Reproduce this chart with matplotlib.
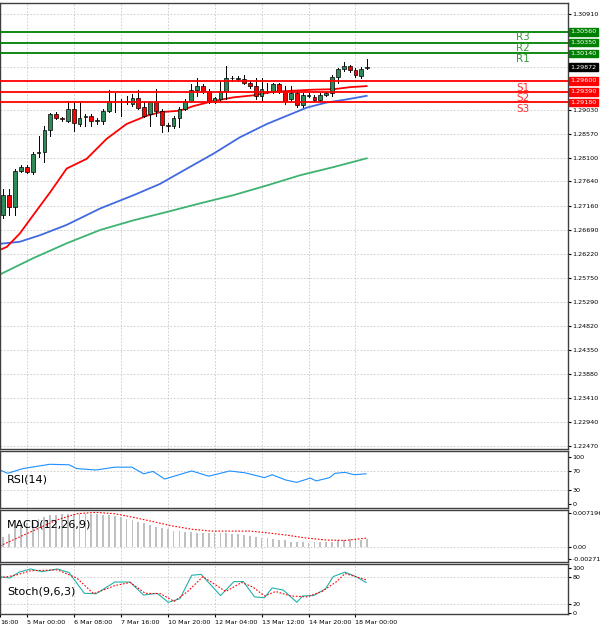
import numpy as np
import matplotlib
matplotlib.use("Agg")
import matplotlib.pyplot as plt
from matplotlib.patches import Rectangle

# ---------------- data ----------------
opens = [1.2698,1.2737,1.2714,1.2785,1.2792,1.2782,1.2820,1.2821,1.2865,1.2895,1.2887,1.2882,1.2905,1.2876,1.2889,1.2892,
         1.2882,1.2882,1.2902,1.2920,1.2921,1.2920,1.2915,1.2926,1.2910,1.2895,1.2919,1.2902,1.2875,1.2873,1.2888,1.2906,
         1.2921,1.2942,1.2950,1.2941,1.2920,1.2924,1.2941,1.2965,1.2963,1.2963,1.2957,1.2950,1.2931,1.2939,1.2941,1.2954,
         1.2941,1.2924,1.2937,1.2913,1.2931,1.2929,1.2923,1.2933,1.2936,1.2968,1.2983,1.2989,1.2981,1.2970,1.2985]
closes = [1.2737,1.2714,1.2785,1.2792,1.2783,1.2818,1.2822,1.2865,1.2895,1.2888,1.2886,1.2905,1.2878,1.2888,1.2892,1.2882,
          1.2884,1.2902,1.2920,1.2921,1.2920,1.2918,1.2926,1.2908,1.2892,1.2918,1.2902,1.2875,1.2873,1.2888,1.2906,1.2921,
          1.2942,1.2950,1.2941,1.2920,1.2926,1.2941,1.2966,1.2966,1.2966,1.2957,1.2950,1.2931,1.2944,1.2941,1.2954,1.2941,
          1.2921,1.2937,1.2913,1.2933,1.2933,1.2923,1.2933,1.2936,1.2968,1.2983,1.2989,1.2981,1.2971,1.2984,1.2987]
highs = [1.2750,1.2750,1.2789,1.2795,1.2795,1.2821,1.2853,1.2873,1.2897,1.2899,1.2890,1.2921,1.2921,1.2918,1.2895,1.2895,
         1.2887,1.2905,1.2942,1.2937,1.2924,1.2931,1.2934,1.2942,1.2921,1.2921,1.2944,1.2905,1.2878,1.2891,1.2910,1.2924,
         1.2954,1.2965,1.2954,1.2944,1.2929,1.2960,1.2989,1.2970,1.2970,1.2972,1.2960,1.2966,1.2966,1.2957,1.2957,1.2957,
         1.2950,1.2950,1.2941,1.2936,1.2937,1.2932,1.2936,1.2939,1.2972,1.2986,1.2997,1.2992,1.2985,1.2987,1.3003]
lows = [1.2692,1.2698,1.2698,1.2782,1.2780,1.2779,1.2811,1.2801,1.2853,1.2886,1.2882,1.2879,1.2863,1.2873,1.2873,1.2873,
        1.2876,1.2876,1.2899,1.2899,1.2892,1.2915,1.2911,1.2905,1.2889,1.2873,1.2892,1.2860,1.2863,1.2869,1.2871,1.2903,
        1.2918,1.2931,1.2937,1.2917,1.2917,1.2921,1.2924,1.2960,1.2960,1.2954,1.2947,1.2924,1.2921,1.2936,1.2937,1.2937,
        1.2915,1.2921,1.2910,1.2910,1.2928,1.2920,1.2920,1.2930,1.2931,1.2957,1.2979,1.2978,1.2968,1.2966,1.2983]

ma_red_x = [-0.6,0.6,2.8,5.1,8,10.8,14.2,17.6,21,24.4,26.7,30.1,32.4,35.8,39.2,42.6,46,49.4,52.8,56.3,59.1,61.9]
ma_red_y = [1.2630,1.2636,1.2662,1.2698,1.2743,1.2789,1.2808,1.2847,1.2876,1.2892,1.2899,1.2902,1.2911,1.2921,1.2928,
            1.2932,1.2939,1.2941,1.2943,1.2944,1.2948,1.2950]
ma_blue_x = [-0.6,2.8,6.3,10.8,16.5,22.2,26.7,31.3,35.8,40.3,44.9,48.3,51.7,55.1,58.5,61.9]
ma_blue_y = [1.2642,1.2646,1.2659,1.2679,1.2711,1.2737,1.2759,1.2789,1.2818,1.2850,1.2876,1.2892,1.2908,1.2918,1.2924,1.2931]
ma_green_x = [-0.6,5.1,10.8,16.5,22.2,27.8,33.5,39.2,44.9,50.6,56.3,61.9]
ma_green_y = [1.2582,1.2614,1.2643,1.2669,1.2688,1.2704,1.2721,1.2737,1.2756,1.2776,1.2792,1.2809]

res_levels = [1.30560, 1.30350, 1.30140]
res_names = ["R3", "R2", "R1"]
sup_levels = [1.29600, 1.29390, 1.29180]
sup_names = ["S1", "S2", "S3"]
last_price = 1.29872
price_ticks = [1.30910,1.29870,1.29030,1.28570,1.28100,1.27640,1.27160,1.26690,1.26220,1.25750,1.25290,
               1.24820,1.24350,1.23880,1.23410,1.22940,1.22470]

rsi_x = [-0.56,0.74,3.35,7.9,11.2,12.5,15.8,19.0,21.9,23.9,25.5,27.5,32.1,35.0,38.6,41.2,44.5,45.8,48.1,50.0,52.3,53.3,
         55.6,56.5,58.2,59.8,61.8]
rsi_y = [72,65,75,84,83,75,72,78,78,64,69,53,70,59,70,66,56,62,51,46,55,49,56,65,67,62,64]

macd_hist = [2.0,2.7,3.9,4.5,5.0,5.3,5.9,6.2,6.7,6.8,7.0,7.0,7.0,7.0,7.0,7.0,7.0,6.8,6.7,6.5,6.2,5.9,5.7,5.3,5.0,4.6,
             4.2,4.0,3.7,3.4,3.3,3.1,3.0,2.9,2.9,2.9,2.9,2.9,2.9,2.7,2.6,2.4,2.2,2.1,1.9,1.8,1.6,1.4,1.3,1.0,0.9,0.9,
             0.8,0.9,0.9,1.0,1.0,1.3,1.5,1.6,1.6,1.5,1.6]  # x 0.001
macd_sig_x = [-0.56,2.7,6.0,9.2,12.5,15.8,19.0,22.3,25.6,28.8,32.1,35.4,38.7,42.0,45.2,48.5,51.7,55.0,58.2,61.8]
macd_sig_y = [0.15,2.0,3.9,5.7,7.0,7.3,7.0,6.2,5.3,4.4,3.7,3.3,3.3,3.3,2.9,2.4,1.8,1.4,1.3,1.8]

stk_x = [-0.56,1.07,2.7,4.66,6.6,9.2,11.2,13.8,15.8,19.0,21.6,23.9,26.2,28.1,30.1,32.1,33.7,37.0,39.3,40.9,42.8,44.5,
         45.8,47.7,50.0,51.0,52.9,54.9,56.2,58.2,60.1,61.8]
stk_k = [80,77,90,97,91,97,89,43,42,68,68,39,43,23,31,83,85,38,69,69,35,33,55,50,23,37,38,53,80,90,80,67]
std_x = [-0.56,2.05,4.66,9.2,12.5,15.4,19.0,21.6,24.2,26.8,29.1,31.4,34.0,36.0,37.9,40.6,42.5,44.5,46.4,49.0,51.7,
         54.3,56.9,58.2,61.8]
std_d = [77,83,93,95,77,42,60,67,43,42,25,47,80,63,47,67,57,37,47,37,35,47,70,87,73]

date_ticks = [-0.56,4,12,20,28,36,44,52,60]
date_labels = ["16:00","5 Mar 00:00","6 Mar 08:00","7 Mar 16:00","10 Mar 20:00","12 Mar 04:00",
               "13 Mar 12:00","14 Mar 20:00","18 Mar 00:00"]

# ---------------- layout ----------------
W, H = 600, 629
fig = plt.figure(figsize=(6, 6.29), dpi=100)
fig.patch.set_facecolor("white")
plt.rcParams["font.family"] = "DejaVu Sans"
AXR = 568
XL, XR = -0.56, 96.2
FS = 4.6
GRID = dict(color="#c8c8c8", linestyle=(0, (2, 2)), linewidth=0.6)

def mk(top, bot):
    ax = fig.add_axes([0, 1 - bot / H, AXR / W, (bot - top) / H])
    ax.yaxis.tick_right()
    ax.tick_params(axis="y", labelsize=FS, length=2, pad=1.2)
    ax.tick_params(axis="x", length=0, labelbottom=False)
    ax.set_xticks(date_ticks)
    ax.set_xlim(XL, XR)
    ax.grid(True, axis="x", **GRID)
    for s in ax.spines.values():
        s.set_color("#404040")
        s.set_linewidth(1.0)
    return ax

ax = mk(3, 449)
ax.set_ylim(1.22413, 1.31123)
ax.set_yticks(price_ticks)
ax.set_yticklabels([f"{v:.5f}" for v in price_ticks])
ax.grid(True, axis="y", **GRID)

for i, (o, c, h, l) in enumerate(zip(opens, closes, highs, lows)):
    ax.plot([i, i], [l, h], color="black", lw=0.7, zorder=3)
    col = "#2e8b57" if c >= o else "#ff0000"
    lo, hi = min(o, c), max(o, c)
    ax.add_patch(Rectangle((i - 0.32, lo), 0.64, max(hi - lo, 0.00005), facecolor=col,
                           edgecolor="black", lw=0.5, zorder=4))

ax.plot(ma_green_x, ma_green_y, color="#3cb371", lw=1.3, zorder=2)
ax.plot(ma_blue_x, ma_blue_y, color="#4169e1", lw=1.3, zorder=2)
ax.plot(ma_red_x, ma_red_y, color="#ff0000", lw=1.3, zorder=2)

def box(y, txt, fc):
    ax.text(1.004, y, txt, transform=ax.get_yaxis_transform(), fontsize=FS, color="white",
            va="center", ha="left", zorder=10, clip_on=False,
            bbox=dict(boxstyle="square,pad=0.2", fc=fc, ec=fc))

for lv, nm in zip(res_levels, res_names):
    ax.axhline(lv, color="#008000", lw=1.3, zorder=5)
    ax.text(88.5, lv - 0.0001, nm, color="#3a9a3a", fontsize=7.5, va="top", ha="center", zorder=6)
    box(lv, f"{lv:.5f}", "#008000")
for lv, nm in zip(sup_levels, sup_names):
    ax.axhline(lv, color="#ff0000", lw=1.3, zorder=5)
    ax.text(88.5, lv - 0.0003, nm, color="#ff3030", fontsize=7.5, va="top", ha="center", zorder=6)
    box(lv, f"{lv:.5f}", "#ff0000")
box(last_price, f"{last_price:.5f}", "#000000")

# RSI
a1 = mk(451, 508)
a1.set_ylim(-8, 112)
a1.set_yticks([0, 30, 70, 100])
a1.axhline(70, **GRID); a1.axhline(30, **GRID)
a1.plot(rsi_x, rsi_y, color="#1e90ff", lw=0.8)
a1.text(0.012, 0.5, "RSI(14)", transform=a1.transAxes, fontsize=8, va="center")

# MACD
a2 = mk(510, 562)
a2.set_ylim(-3.3, 7.8)
a2.set_yticks([7.196, 0, -2.711])
a2.set_yticklabels(["0.007196", "0.00", "-0.002711"])
a2.axhline(0, **GRID)
a2.bar(range(len(macd_hist)), macd_hist, width=0.3, color="#c0c0c0")
a2.plot(macd_sig_x, macd_sig_y, color="#ff0000", lw=0.8, linestyle=(0, (1.5, 1.5)))
a2.text(0.012, 0.73, "MACD(12,26,9)", transform=a2.transAxes, fontsize=8, va="center")

# Stoch
a3 = mk(564, 614)
a3.set_ylim(-3, 108)
a3.set_yticks([0, 20, 80, 100])
a3.axhline(80, **GRID); a3.axhline(20, **GRID)
a3.plot(stk_x, stk_k, color="#20b2aa", lw=0.8)
a3.plot(std_x, std_d, color="#ff0000", lw=0.8, linestyle=(0, (1.5, 1.5)))
a3.text(0.012, 0.45, "Stoch(9,6,3)", transform=a3.transAxes, fontsize=8, va="center")
a3.tick_params(axis="x", labelbottom=True, labelsize=FS, length=2, pad=2)
a3.set_xticklabels(date_labels, ha="left")
a3.set_xlim(XL, XR)

fig.savefig("out.png", dpi=100)
